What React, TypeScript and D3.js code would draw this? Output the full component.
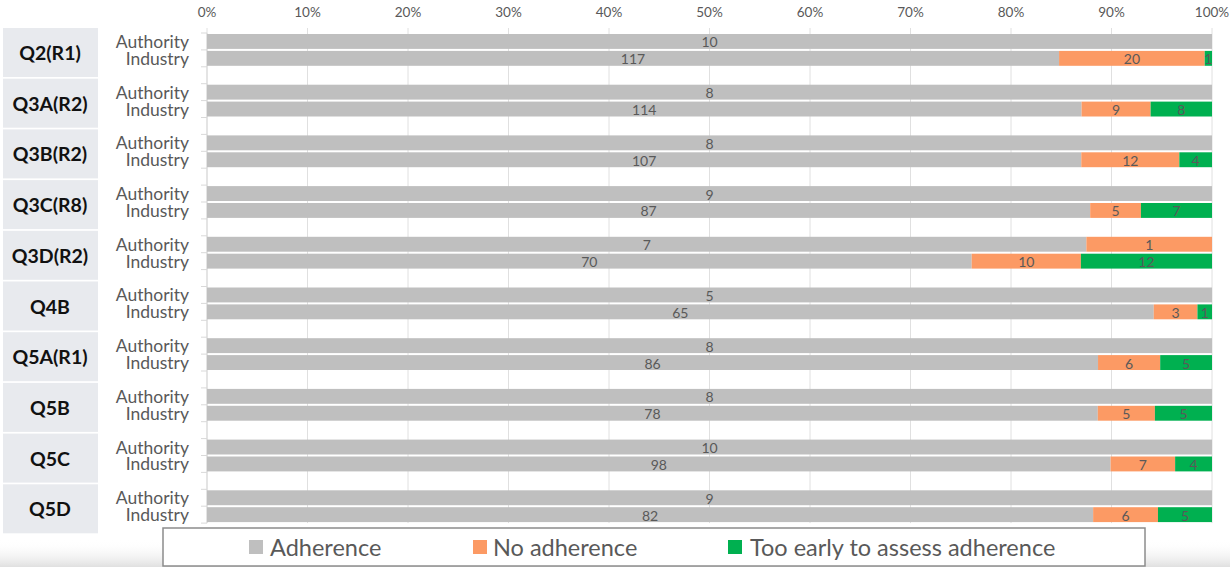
import React from "react";
import * as d3 from "d3";

const categories = ["Q2(R1)", "Q3A(R2)", "Q3B(R2)", "Q3C(R8)", "Q3D(R2)", "Q4B", "Q5A(R1)", "Q5B", "Q5C", "Q5D"];
const groups = ["Authority", "Industry"];
const seriesNames = ["Adherence", "No adherence", "Too early to assess adherence"];
const seriesColors = ["#bfbfbf", "#fc9a64", "#00b050"];

const authorityAdherence = [10, 8, 8, 9, 7, 5, 8, 8, 10, 9];
const authorityNoAdherence = [0, 0, 0, 0, 1, 0, 0, 0, 0, 0];
const authorityTooEarly = [0, 0, 0, 0, 0, 0, 0, 0, 0, 0];

const industryAdherence = [117, 114, 107, 87, 70, 65, 86, 78, 98, 82];
const industryNoAdherence = [20, 9, 12, 5, 10, 3, 6, 5, 7, 6];
const industryTooEarly = [1, 8, 4, 7, 12, 1, 5, 5, 4, 5];

const xTicks = [0, 0.1, 0.2, 0.3, 0.4, 0.5, 0.6, 0.7, 0.8, 0.9, 1.0];

const W = 1230;
const H = 567;
const FONT = "Lato, 'Open Sans', sans-serif";

export default function App() {
  const x = d3.scaleLinear().domain([0, 1]).range([207, 1212]);
  const groupStep = 50.7;
  const yTop = 33;
  const yGroup = d3.scaleBand<string>().domain(categories).range([yTop, yTop + groupStep * categories.length]).paddingInner(0).paddingOuter(0);
  const yInner = d3.scaleBand<string>().domain([...groups, "_gap"]).range([0, yGroup.bandwidth()]);
  const bandH = yInner.bandwidth();
  const barPad = 1;
  const yBottom = (yGroup(categories[categories.length - 1]) as number) + 2 * bandH;

  const data = categories.map((c, i) => ({
    cat: c,
    rows: [
      { g: "Authority", vals: [authorityAdherence[i], authorityNoAdherence[i], authorityTooEarly[i]] },
      { g: "Industry", vals: [industryAdherence[i], industryNoAdherence[i], industryTooEarly[i]] },
    ],
  }));

  const boundaryTicks: number[] = [];
  categories.forEach((c) => {
    const g0 = yGroup(c) as number;
    boundaryTicks.push(g0, g0 + bandH, g0 + 2 * bandH);
  });

  const legendItems = [
    { name: seriesNames[0], color: seriesColors[0], sx: 249, tx: 270 },
    { name: seriesNames[1], color: seriesColors[1], sx: 473, tx: 493 },
    { name: seriesNames[2], color: seriesColors[2], sx: 728, tx: 750 },
  ];

  return (
    <div style={{ position: "absolute", left: 0, top: 0 }}>
      <svg width={W} height={H} style={{ display: "block", fontFamily: FONT }}>
        <defs>
          <linearGradient id="shadow" x1="0" y1="0" x2="0" y2="1">
            <stop offset="0" stopColor="#ffffff" stopOpacity="0" />
            <stop offset="1" stopColor="#d8d8d8" stopOpacity="0.8" />
          </linearGradient>
        </defs>
        <rect x={0} y={0} width={W} height={H} fill="#ffffff" />
        <rect x={0} y={540} width={W} height={27} fill="url(#shadow)" />

        {/* category boxes */}
        {categories.map((c) => {
          const g0 = yGroup(c) as number;
          return (
            <g key={c}>
              <rect x={3} y={g0 - 5} width={95} height={49} fill="#e8eaee" />
              <text x={50} y={g0 - 5 + 24.5} textAnchor="middle" dominantBaseline="central" fontSize={19.5} fontWeight="bold" fill="#111">
                {c}
              </text>
            </g>
          );
        })}

        {/* gridlines */}
        {xTicks.map((t) => (
          <line key={t} x1={x(t)} x2={x(t)} y1={28} y2={yBottom} stroke="#e0e0e0" strokeWidth={1} />
        ))}
        {/* left axis */}
        <line x1={x(0)} x2={x(0)} y1={yTop} y2={yBottom} stroke="#d9d9d9" />
        {boundaryTicks.map((t, i) => (
          <line key={i} x1={x(0) - 6} x2={x(0)} y1={t} y2={t} stroke="#d9d9d9" />
        ))}

        {/* top tick labels */}
        {xTicks.map((t) => (
          <text key={t} x={x(t)} y={12} textAnchor="middle" dominantBaseline="central" fontSize={13.5} fill="#595959">
            {d3.format(".0%")(t)}
          </text>
        ))}

        {/* bars */}
        {data.map((d) => {
          const g0 = yGroup(d.cat) as number;
          return d.rows.map((r) => {
            const total = d3.sum(r.vals);
            const yb = g0 + (yInner(r.g) as number);
            let cum = 0;
            return (
              <g key={d.cat + r.g}>
                <text x={189} y={yb + bandH / 2} textAnchor="end" dominantBaseline="central" fontSize={17.5} fill="#595959">
                  {r.g}
                </text>
                {r.vals.map((v, k) => {
                  const x0 = x(cum / total);
                  cum += v;
                  const x1 = x(cum / total);
                  if (v === 0) return null;
                  return (
                    <g key={k}>
                      <rect x={x0} y={yb + barPad} width={x1 - x0} height={bandH - 2 * barPad} fill={seriesColors[k]} />
                      <text x={(x0 + x1) / 2} y={yb + bandH / 2 + 0.5} textAnchor="middle" dominantBaseline="central" fontSize={14} fill="#595959">
                        {v}
                      </text>
                    </g>
                  );
                })}
              </g>
            );
          });
        })}

        {/* legend */}
        <rect x={163} y={528} width={982} height={38} fill="#ffffff" stroke="#8c8c8c" strokeWidth={1.5} />
        {legendItems.map((l) => (
          <g key={l.name}>
            <rect x={l.sx} y={540} width={14} height={14} fill={l.color} />
            <text x={l.tx} y={547} dominantBaseline="central" fontSize={23.5} fill="#595959">
              {l.name}
            </text>
          </g>
        ))}
      </svg>
    </div>
  );
}
